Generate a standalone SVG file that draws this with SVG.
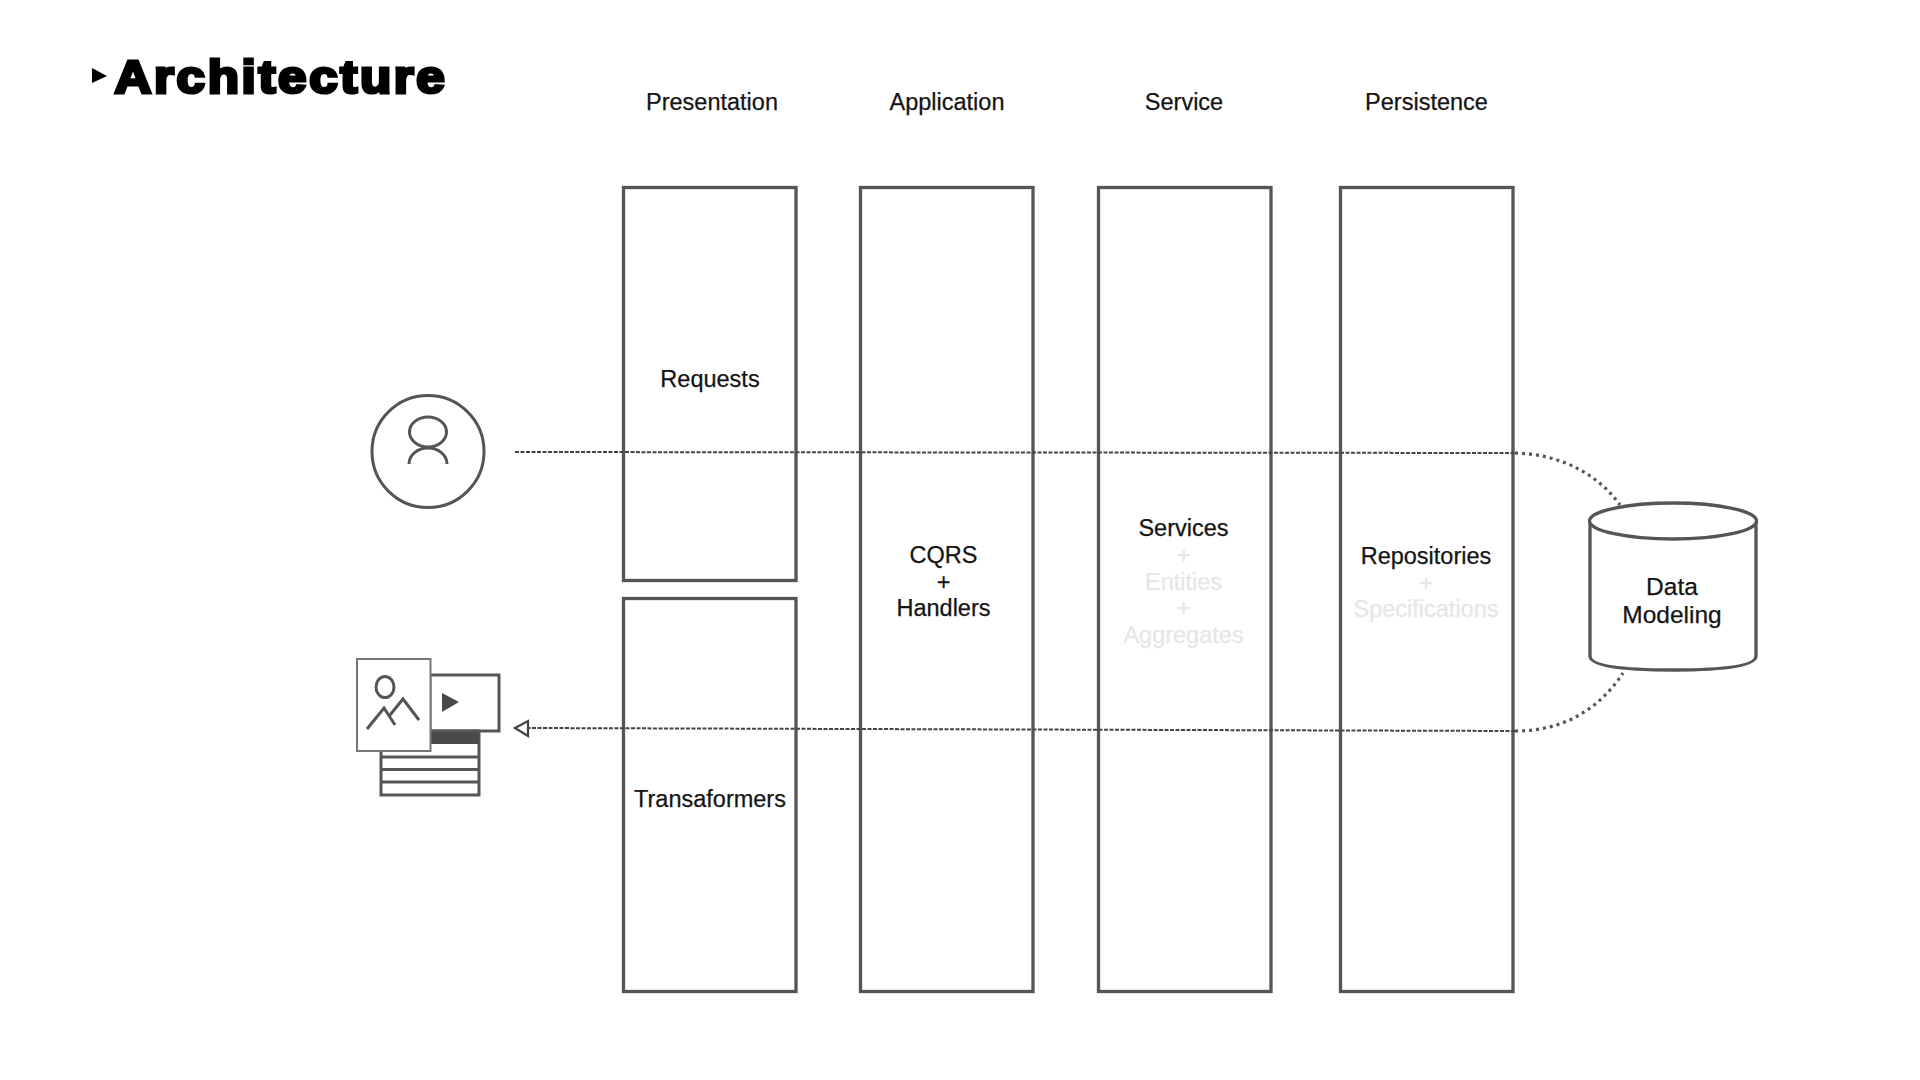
<svg xmlns="http://www.w3.org/2000/svg" width="1920" height="1080" viewBox="0 0 1920 1080">
<style>
text{font-family:"Liberation Sans",Arial,sans-serif;font-size:23.5px;fill:#141414;stroke:#141414;stroke-width:.25;text-anchor:middle}
text.faint{fill:#e6e6e6;stroke:#e6e6e6}
.box{fill:#fff;stroke:#555;stroke-width:3.3}
.ln{fill:none;stroke:#555;stroke-width:3}
.thin{fill:#fff;stroke:#777;stroke-width:2}
.dash{fill:none;stroke:#444;stroke-width:2;stroke-dasharray:4 1.5}
.dot{fill:none;stroke:#555;stroke-width:3.2;stroke-dasharray:3 4}
</style>
<rect width="1920" height="1080" fill="#fff"/>
<g id="title">
<polygon points="92,68 107,76 92,83" fill="#000"/>
<text transform="translate(114.500 92.500) scale(1.1 1)" x="0" y="0" style="font-size:46.5px;font-weight:700;fill:#000;stroke:#000;stroke-width:3.2;stroke-linejoin:miter;letter-spacing:2.4px;text-anchor:start">Architecture</text>
</g>
<g id="headers">
<text x="712" y="110">Presentation</text>
<text x="947" y="110">Application</text>
<text x="1184" y="110">Service</text>
<text x="1426.500" y="110">Persistence</text>
</g>
<g id="requests"><rect class="box" x="623.500" y="187.500" width="172.500" height="393"/><text x="710" y="387">Requests</text></g>
<g id="transformers"><rect class="box" x="623.500" y="598.500" width="172.500" height="393"/><text x="710" y="807">Transaformers</text></g>
<g id="cqrs"><rect class="box" x="860.500" y="187.500" width="172.500" height="804"/><text x="943.500" y="563">CQRS</text><text x="943.500" y="589.500">+</text><text x="943.500" y="616">Handlers</text></g>
<g id="services"><rect class="box" x="1098.500" y="187.500" width="172.500" height="804"/><text x="1183.500" y="536">Services</text><text class="faint" x="1183.500" y="563">+</text><text class="faint" x="1183.500" y="589.500">Entities</text><text class="faint" x="1183.500" y="616">+</text><text class="faint" x="1183.500" y="643">Aggregates</text></g>
<g id="repositories"><rect class="box" x="1340.500" y="187.500" width="172.500" height="804"/><text x="1426" y="564">Repositories</text><text class="faint" x="1426" y="590.500">+</text><text class="faint" x="1426" y="617">Specifications</text></g>
<g id="user">
<circle class="ln" cx="428" cy="451.500" r="56"/>
<ellipse class="ln" cx="428" cy="432" rx="18.500" ry="15"/>
<path class="ln" d="M409 464A19 16 0 0 1 447 464"/>
</g>
<g id="media">
<rect class="ln" x="381" y="731" width="98" height="64"/>
<rect x="430" y="731" width="49" height="13" fill="#4a4a4a"/>
<path class="ln" d="M381 757H479M381 769.500H479M381 782H479"/>
<rect class="ln" x="430" y="675" width="69" height="56" fill="#fff"/>
<polygon points="442,693 459,702 442,712" fill="#4a4a4a"/>
<rect class="thin" x="357" y="659" width="73.500" height="92"/>
<ellipse class="ln" cx="385" cy="687" rx="9" ry="10.500"/>
<path class="ln" d="M367 729L384 708L395 725M390 715L403 699L419 720"/>
</g>
<g id="connectors">
<path class="dash" d="M515 452L1515 453"/>
<path class="dot" d="M1515 453C1560 454 1598 474 1620 505"/>
<path class="dash" d="M1515 731L528 728"/>
<path class="dot" d="M1515 731C1565 731 1600 708 1623 673"/>
<polygon points="515,728 528,721 528,736" fill="#fff" stroke="#444" stroke-width="2.200"/>
</g>
<g id="data-modeling">
<path d="M1590 521V656Q1590 670 1673 670Q1756 670 1756 656V521" fill="#fff" stroke="#555" stroke-width="3.300"/>
<ellipse cx="1673" cy="521" rx="83.500" ry="18" fill="#fff" stroke="#555" stroke-width="3.300"/>
<text x="1672" y="595" style="font-size:24.5px">Data</text>
<text x="1672" y="623" style="font-size:24.5px">Modeling</text>
</g>
</svg>
